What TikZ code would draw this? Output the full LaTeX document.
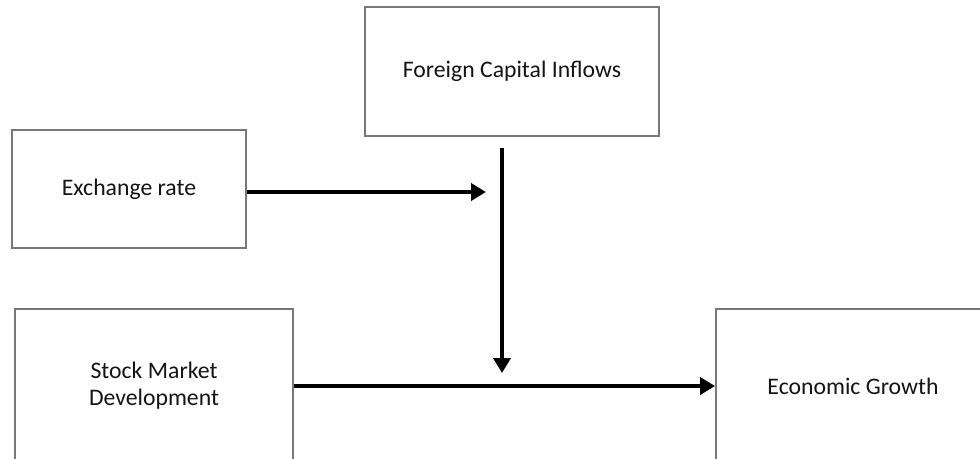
\documentclass[tikz,border=0pt]{standalone}
\usepackage{fontspec}
\setmainfont{Carlito}
\usetikzlibrary{
    arrows.meta,
    positioning
}
\definecolor{boxGray}{RGB}{120, 120, 120}
\definecolor{textBlack}{RGB}{20, 20, 20}
\def\picW{980}
\def\picH{458}
\tikzset{
    factor/.style={
        rectangle,
        draw=boxGray,
        line width=1.1pt,
        fill=white,
        text=textBlack,
        align=center,
        inner sep=0pt,
        font=\fontsize{13.5}{15.5}\selectfont
    },
    link/.style={
        line width=2.8pt,
        draw=black,
        -{Triangle[length=0.3cm, width=0.34cm]}
    }
}
\begin{document}
\begin{tikzpicture}[x=0.02cm, y=-0.02cm]
    \useasboundingbox (0,0) rectangle (\picW, \picH);
    \clip (0,0) rectangle (\picW, \picH);
    \fill[white] (0,0) rectangle (\picW, \picH);

    % Factors
    \node[factor, minimum width=5.88cm, minimum height=2.58cm] (fci) at (512, 71.5) {Foreign Capital Inflows};
    \node[factor, minimum width=4.68cm, minimum height=2.36cm] (exch) at (129, 189) {Exchange rate};
    \node[factor, minimum width=5.56cm, minimum height=3.08cm] (stock) at (154, 386) {Stock Market\\Development};
    \node[factor, minimum width=5.48cm, minimum height=3.08cm] (growth) at (853, 386) {Economic Growth};

    % Moderating paths
    \coordinate (exchEnd) at (486, 192);
    \coordinate (fciStart) at (502, 148);
    \coordinate (fciEnd) at (502, 373);

    \draw[link] (exch.east |- exchEnd) -- (exchEnd);
    \draw[link] (fciStart) -- (fciEnd);
    \draw[link] (stock) -- (growth);
\end{tikzpicture}
\end{document}
